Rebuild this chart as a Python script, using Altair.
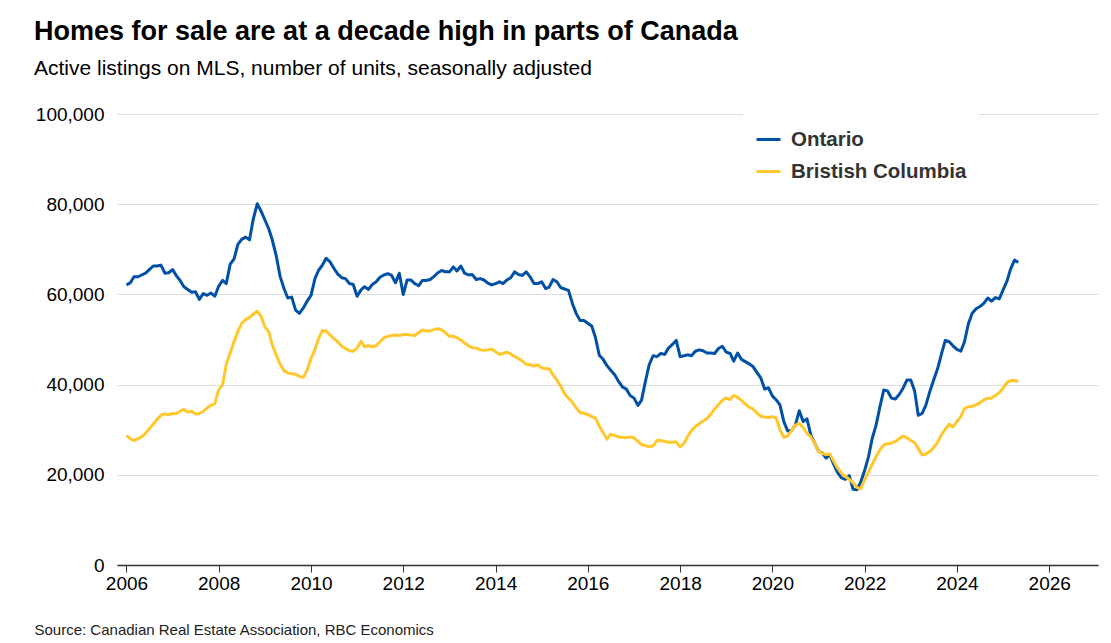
import altair as alt
import pandas as pd

# Monthly active listings (units, seasonally adjusted), Jan 2006 - May 2025
ontario = [
    62100, 62600, 63900, 63900, 64300, 64700, 65500, 66300, 66300, 66500, 64700, 64800,  # 2006
    65500, 64100, 63100, 61700, 61100, 60500, 60600, 58900, 60200, 59800, 60300, 59600,  # 2007
    61800, 63100, 62400, 66700, 67800, 71100, 72200, 72700, 72100, 76700, 80100, 78500,  # 2008
    76500, 74500, 72000, 68500, 64000, 61300, 59200, 59400, 56500, 55800, 57000, 58500,  # 2009
    59800, 63500, 65300, 66500, 68000, 67200, 65800, 64500, 63700, 63500, 62400, 62200,  # 2010
    59600, 61000, 61700, 61100, 62200, 62800, 63800, 64300, 64600, 64200, 62600, 64700,  # 2011
    60000, 63200, 63200, 62400, 61900, 63100, 63100, 63300, 64000, 64800, 65300, 65000,  # 2012
    65000, 66100, 65200, 66300, 64700, 64300, 64400, 63300, 63500, 63200, 62500, 62100,  # 2013
    62400, 62800, 62400, 63200, 63700, 65000, 64400, 64200, 65000, 63900, 62400, 62400,  # 2014
    62800, 61300, 61600, 63300, 62800, 61500, 61200, 60900, 58000, 55800, 54200, 54200,  # 2015
    53600, 53000, 50500, 46500, 45600, 44200, 43200, 42200, 40700, 39500, 39000, 37600,  # 2016
    37000, 35400, 36500, 40700, 44400, 46400, 46200, 46900, 46700, 48100, 48900, 49800,  # 2017
    46200, 46400, 46600, 46400, 47400, 47700, 47500, 47000, 47000, 46900, 48000, 48500,  # 2018
    47200, 46900, 45200, 47000, 45600, 45100, 44600, 44000, 42700, 41500, 39000, 39300,  # 2019
    37500, 36600, 35500, 31800, 29700, 29800, 31000, 34200, 31800, 32400, 28800, 27000,  # 2020
    25200, 24800, 23700, 24400, 22300, 20500, 19300, 19000, 19800, 16800, 16700, 18400,  # 2021
    21000, 24100, 28000, 31000, 35000, 38800, 38600, 37000, 36800, 37800, 39200, 41000,  # 2022
    41000, 38500, 33200, 33600, 35500, 38500, 41000, 43500, 46800, 49800, 49500, 48600,  # 2023
    47800, 47400, 49500, 53500, 55800, 56800, 57300, 58000, 59200, 58500, 59300, 59000,  # 2024
    61000, 63000, 65600, 67600, 67100,                                                   # 2025
]

british_columbia = [
    28700, 28000, 27600, 28000, 28400, 29200, 30200, 31200, 32300, 33200, 33500, 33300,  # 2006
    33600, 33600, 34100, 34500, 33900, 34100, 33500, 33600, 34100, 34800, 35400, 35800,  # 2007
    38900, 40000, 44500, 47000, 49500, 51800, 53600, 54400, 54900, 55600, 56300, 55200,  # 2008
    52800, 51700, 48700, 46600, 44500, 43100, 42600, 42400, 42300, 41800, 41600, 43200,  # 2009
    45800, 47800, 50200, 52000, 51900, 51000, 50200, 49500, 48500, 48000, 47500, 47400,  # 2010
    48100, 49600, 48400, 48600, 48400, 48600, 49500, 50400, 50700, 50900, 51000, 50900,  # 2011
    51100, 51100, 51000, 50900, 51500, 52100, 51900, 51900, 52200, 52400, 52100, 51500,  # 2012
    50700, 50700, 50400, 49900, 49200, 48600, 48200, 48100, 47700, 47600, 47700, 47900,  # 2013
    47300, 46700, 46900, 47200, 46800, 46200, 45800, 45200, 44500, 44400, 44100, 44400,  # 2014
    43700, 43500, 43500, 42200, 41000, 39600, 38000, 37000, 36100, 34800, 33800, 33600,  # 2015
    33400, 32900, 32600, 30800, 29400, 27900, 29000, 28700, 28400, 28300, 28200, 28400,  # 2016
    28200, 27400, 26700, 26500, 26200, 26400, 27600, 27600, 27400, 27200, 27200, 27300,  # 2017
    26200, 27000, 28500, 29800, 30700, 31300, 31900, 32500, 33400, 34600, 35600, 36500,  # 2018
    37000, 36700, 37600, 37200, 36500, 35700, 35000, 34600, 33700, 33000, 32800, 32700,  # 2019
    32900, 32600, 30000, 28300, 28600, 29800, 31000, 31400, 30500, 29200, 28400, 27000,  # 2020
    25200, 24700, 24500, 24600, 23000, 21500, 20400, 19600, 19000, 18200, 17200, 16900,  # 2021
    18900, 20700, 22300, 24000, 25500, 26600, 26900, 27000, 27400, 28000, 28600, 28200,  # 2022
    27600, 27100, 25800, 24400, 24600, 25200, 26000, 27200, 28900, 30100, 31200, 30600,  # 2023
    31800, 32900, 34700, 35100, 35200, 35500, 36000, 36600, 37000, 37000, 37600, 38200,  # 2024
    39200, 40500, 40900, 40900, 40700,                                                   # 2025
]

series_names = ["Ontario", "Bristish Columbia"]
series_colors = ["#0051A5", "#FFC72C"]
x_tick_years = [2006, 2008, 2010, 2012, 2014, 2016, 2018, 2020, 2022, 2024, 2026]
y_ticks = [0, 20000, 40000, 60000, 80000, 100000]

dates = pd.date_range("2006-01-01", periods=len(ontario), freq="MS")
df = pd.concat([
    pd.DataFrame({"date": dates, "value": ontario, "region": series_names[0]}),
    pd.DataFrame({"date": dates, "value": british_columbia, "region": series_names[1]}),
])

FONT = "Liberation Sans"

chart = alt.Chart(df).mark_line(strokeWidth=3, strokeJoin="round").encode(
    x=alt.X(
        "date:T",
        scale=alt.Scale(domain=[alt.DateTime(year=2005, month=10, date=18),
                                alt.DateTime(year=2027, month=1, date=22)]),
        axis=alt.Axis(
            values=[alt.DateTime(year=y) for y in x_tick_years],
            format="%Y", grid=False, domain=True, domainColor="#333333", domainWidth=1.5,
            ticks=True, tickColor="#333333", tickSize=7, tickWidth=1,
            labelFontSize=19, labelColor="#000000", labelFont=FONT, labelPadding=2,
            title="Source: Canadian Real Estate Association, RBC Economics",
            titleFont=FONT, titleFontSize=15, titleFontWeight="normal", titleColor="#222222",
            titleAnchor="start", titleAlign="left", titleBaseline="middle",
            titleX=-83, titleY=64,
        ),
    ),
    y=alt.Y(
        "value:Q",
        scale=alt.Scale(domain=[0, 100000]),
        axis=alt.Axis(
            values=y_ticks, format=",.0f", grid=True, gridColor="#dddddd", gridWidth=1.2,
            domain=False, ticks=False, labelFontSize=19, labelColor="#000000",
            labelFont=FONT, labelPadding=13, title=None,
        ),
    ),
    color=alt.Color(
        "region:N",
        scale=alt.Scale(domain=series_names, range=series_colors),
        sort=series_names,
        legend=alt.Legend(
            title=" ", titleFontSize=4, titlePadding=0,
            orient="none", legendX=626, legendY=-4,
            fillColor="white", padding=12,
            symbolType="stroke", symbolStrokeWidth=3, symbolSize=576,
            labelFontSize=20.5, labelFontWeight="bold", labelColor="#333333",
            labelFont=FONT, labelOffset=9, rowPadding=8, labelLimit=400,
        ),
    ),
).properties(
    width=981,
    height=451,
    padding={"left": 34, "top": 18, "right": 13, "bottom": 5},
    title=alt.TitleParams(
        text="Homes for sale are at a decade high in parts of Canada",
        subtitle="Active listings on MLS, number of units, seasonally adjusted",
        anchor="start", frame="bounds", font=FONT, fontSize=27, fontWeight="bold",
        color="#000000", subtitleFont=FONT, subtitleFontSize=21, subtitleColor="#000000",
        subtitlePadding=12, offset=25,
    ),
).configure_view(stroke=None)

chart.save("out.html", embed_options={"renderer": "svg", "actions": False})
